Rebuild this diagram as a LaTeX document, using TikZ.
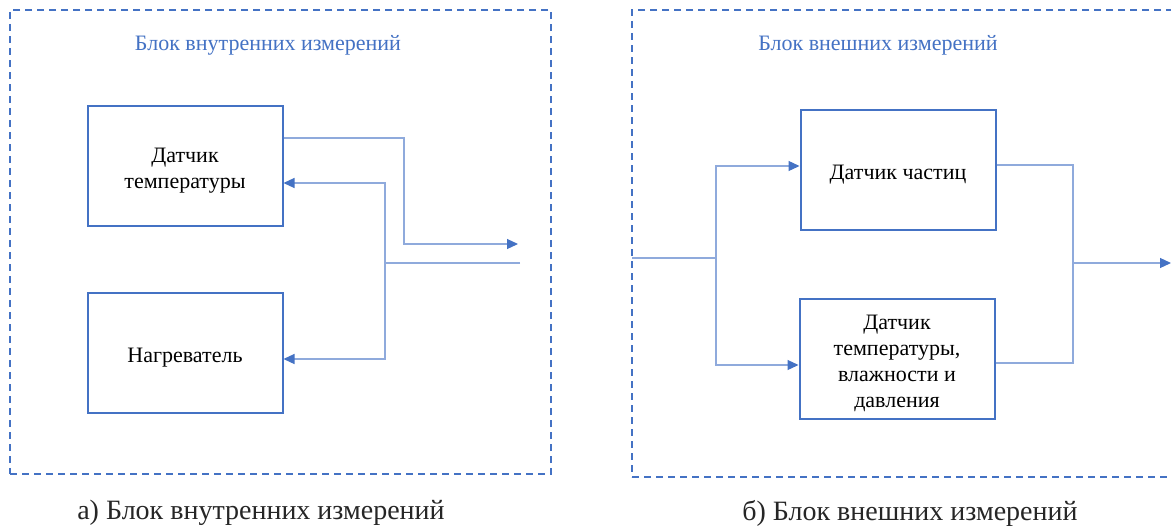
\documentclass[tikz,border=0pt]{standalone}
\usepackage{fontspec}
\setmainfont{Liberation Serif}
\usetikzlibrary{arrows.meta}
\definecolor{bblue}{HTML}{4472C4}
\definecolor{lblue}{HTML}{8FAADC}
\newcommand{\lowtext}{\rule{0pt}{24pt}}
\begin{document}
\begin{tikzpicture}[x=1pt,y=-1pt,
  dashbox/.style={draw=bblue, line width=2pt, dash pattern=on 7pt off 5pt, inner sep=0pt},
  sbox/.style={draw=bblue, line width=2pt, minimum width=195pt, minimum height=120pt, align=center, inner sep=0pt, font=\fontsize{22}{26}\selectfont},
  conn/.style={draw=lblue, line width=1.2pt},
  arr/.style={conn, -{Triangle[length=11pt,width=10pt,color=bblue]}},
  ttl/.style={text=bblue, font=\fontsize{22}{26}\selectfont},
  captext/.style={font=\fontsize{28}{32}\selectfont, text=black!85}
]
\useasboundingbox[fill=white] (0,0) rectangle (1171,530);

% dashed frames
\node[dashbox, minimum width=541pt, minimum height=464pt] (fa) at (280.5,242) {};
\node[dashbox, minimum width=541pt, minimum height=467pt] (fb) at (902.5,243.5) {};

% titles
\node[ttl] (ta) at (268,45) {Блок внутренних измерений};
\node[ttl] (tb) at (878,45) {Блок внешних измерений};

% boxes
\node[sbox] (t1) at (185,165.5) {\lowtext Датчик\\температуры};
\node[sbox] (h) at (185,352.5) {\lowtext Нагреватель};
\node[sbox] (p) at (898,169.5) {\lowtext Датчик частиц};
\node[sbox] (t2) at (897,359) {\lowtext Датчик\\температуры,\\влажности и\\давления};

% left connectors
\coordinate (o1) at (518,244);
\coordinate (i1) at (520,263);
\coordinate (j1) at (385,263);
\draw[arr] (t1.east |- 0,138) -| (404,244) -- (o1);
\draw[conn] (i1) -- (j1);
\draw[arr] (j1) |- (t1.east |- 0,183);
\draw[arr] (j1) |- (h.east |- 0,359);

% right connectors
\coordinate (in) at (632,258);
\coordinate (j2) at (716,258);
\coordinate (k) at (1073,263);
\coordinate (out) at (1171,263);
\draw[conn] (in) -- (j2);
\draw[arr] (j2) |- (p.west |- 0,166);
\draw[arr] (j2) |- (t2.west |- 0,365);
\draw[conn] (p.east |- 0,165) -| (k);
\draw[conn] (t2.east |- 0,363) -| (k);
\draw[arr] (k) -- (out);

% captions
\node[captext] (ca) at (261,513) {а) Блок внутренних измерений};
\node[captext] (cb) at (910,513) {б) Блок внешних измерений};
\end{tikzpicture}
\end{document}
